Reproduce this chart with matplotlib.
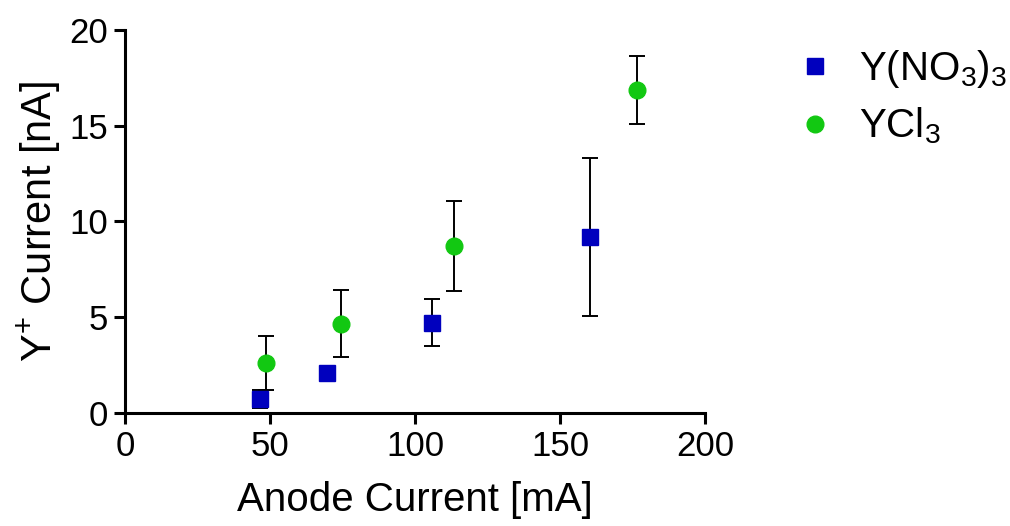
import matplotlib.pyplot as plt

plt.rcParams['font.family'] = ['Liberation Sans', 'DejaVu Sans']
plt.rcParams['mathtext.fontset'] = 'custom'
plt.rcParams['mathtext.rm'] = 'Liberation Sans'
plt.rcParams['mathtext.it'] = 'Liberation Sans:italic'

# Y(NO3)3 series
nitrate_x = [46.6, 69.6, 105.7, 160.3]
nitrate_y = [0.75, 2.1, 4.72, 9.2]
nitrate_err = [0.47, 0.15, 1.24, 4.13]

# YCl3 series
chloride_x = [48.5, 74.5, 113.6, 176.7]
chloride_y = [2.62, 4.65, 8.7, 16.85]
chloride_err = [1.4, 1.75, 2.35, 1.78]

xticks = [0, 50, 100, 150, 200]
yticks = [0, 5, 10, 15, 20]

fig = plt.figure(figsize=(10.1, 5.26), dpi=100)
ax = fig.add_axes([0.1238, 0.2148, 0.5742, 0.7282])

ax.errorbar(nitrate_x, nitrate_y, yerr=nitrate_err, fmt='s', color='#0000BE',
            ecolor='black', elinewidth=1.4, capsize=5.6, capthick=1.4,
            markersize=11, label='Y(NO$_3$)$_3$', zorder=3)
ax.errorbar(chloride_x, chloride_y, yerr=chloride_err, fmt='o', color='#12C812',
            ecolor='black', elinewidth=1.4, capsize=5.6, capthick=1.4,
            markersize=12, label='YCl$_3$', zorder=3)

ax.set_xlim(0, 200)
ax.set_ylim(0, 20)
ax.set_xticks(xticks)
ax.set_yticks(yticks)
ax.spines['top'].set_visible(False)
ax.spines['right'].set_visible(False)
for s in ['left', 'bottom']:
    ax.spines[s].set_linewidth(2.2)
ax.tick_params(direction='out', length=8, width=2.2, labelsize=25, pad=4)

ax.set_xlabel('Anode Current [mA]', fontsize=29, labelpad=13)
ax.set_ylabel('Y$^{+}$ Current [nA]', fontsize=30, labelpad=5)

handles, labels = ax.get_legend_handles_labels()
handles = [h[0] for h in handles]
fig.legend(handles, labels, loc='upper left', bbox_to_anchor=(0.775, 0.94),
           frameon=False, fontsize=29, handlelength=0.8, handletextpad=0.7,
           labelspacing=0.4, borderaxespad=0)

plt.savefig('out.png', dpi=100)
